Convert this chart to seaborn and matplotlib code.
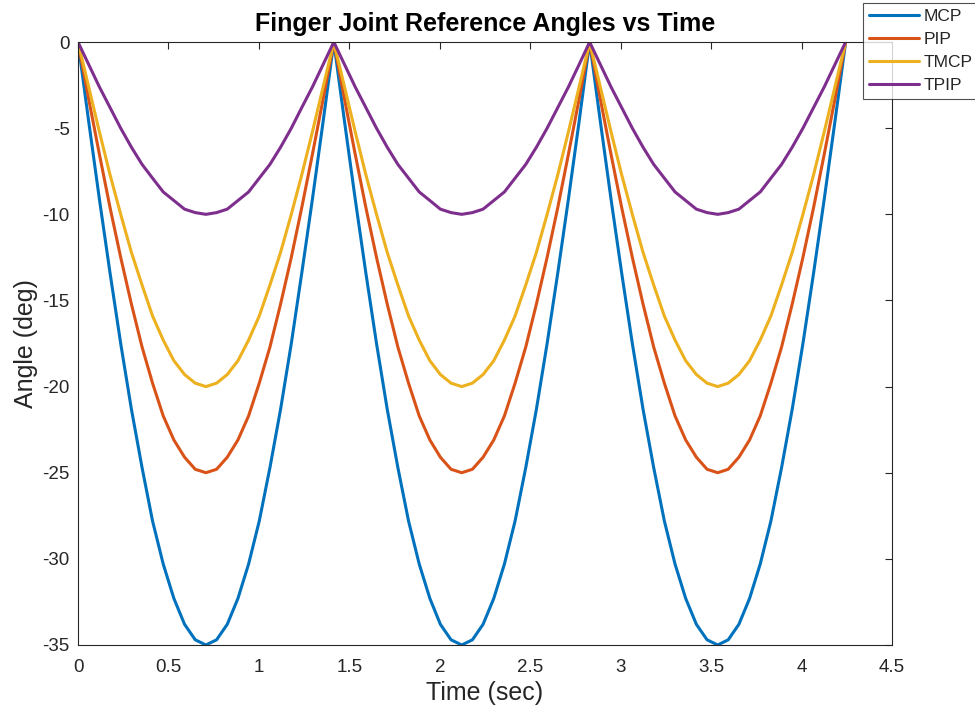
import pandas as pd
import seaborn as sns
import matplotlib.pyplot as plt

# time samples (sec) read along the x axis
time_sec = [0.000, 0.059, 0.118, 0.177, 0.236, 0.295, 0.354, 0.412, 0.471,
            0.530, 0.589, 0.648, 0.707, 0.766, 0.825, 0.884, 0.943, 1.002,
            1.061, 1.120, 1.179, 1.237, 1.296, 1.355, 1.414,
            1.473, 1.532, 1.591, 1.650, 1.709, 1.768, 1.827, 1.886, 1.945,
            2.003, 2.062, 2.121, 2.180, 2.239, 2.298, 2.357, 2.416, 2.475,
            2.534, 2.593, 2.652, 2.711, 2.770, 2.828,
            2.887, 2.946, 3.005, 3.064, 3.123, 3.182, 3.241, 3.300, 3.359,
            3.418, 3.477, 3.536, 3.594, 3.653, 3.712, 3.771, 3.830, 3.889,
            3.948, 4.007, 4.066, 4.125, 4.184, 4.243]

mcp = [0, -4.6, -9.1, -13.4, -17.5, -21.3, -24.7, -27.8, -30.3, -32.3, -33.8, -34.7, -35,
       -34.7, -33.8, -32.3, -30.3, -27.8, -24.7, -21.3, -17.5, -13.4, -9.1, -4.6, 0,
       -4.6, -9.1, -13.4, -17.5, -21.3, -24.7, -27.8, -30.3, -32.3, -33.8, -34.7, -35,
       -34.7, -33.8, -32.3, -30.3, -27.8, -24.7, -21.3, -17.5, -13.4, -9.1, -4.6, 0,
       -4.6, -9.1, -13.4, -17.5, -21.3, -24.7, -27.8, -30.3, -32.3, -33.8, -34.7, -35,
       -34.7, -33.8, -32.3, -30.3, -27.8, -24.7, -21.3, -17.5, -13.4, -9.1, -4.6, 0]

pip = [0, -3.3, -6.5, -9.6, -12.5, -15.2, -17.7, -19.8, -21.7, -23.1, -24.1, -24.8, -25,
       -24.8, -24.1, -23.1, -21.7, -19.8, -17.7, -15.2, -12.5, -9.6, -6.5, -3.3, 0,
       -3.3, -6.5, -9.6, -12.5, -15.2, -17.7, -19.8, -21.7, -23.1, -24.1, -24.8, -25,
       -24.8, -24.1, -23.1, -21.7, -19.8, -17.7, -15.2, -12.5, -9.6, -6.5, -3.3, 0,
       -3.3, -6.5, -9.6, -12.5, -15.2, -17.7, -19.8, -21.7, -23.1, -24.1, -24.8, -25,
       -24.8, -24.1, -23.1, -21.7, -19.8, -17.7, -15.2, -12.5, -9.6, -6.5, -3.3, 0]

tmcp = [0, -2.6, -5.2, -7.7, -10, -12.2, -14.1, -15.9, -17.3, -18.5, -19.3, -19.8, -20,
        -19.8, -19.3, -18.5, -17.3, -15.9, -14.1, -12.2, -10, -7.7, -5.2, -2.6, 0,
        -2.6, -5.2, -7.7, -10, -12.2, -14.1, -15.9, -17.3, -18.5, -19.3, -19.8, -20,
        -19.8, -19.3, -18.5, -17.3, -15.9, -14.1, -12.2, -10, -7.7, -5.2, -2.6, 0,
        -2.6, -5.2, -7.7, -10, -12.2, -14.1, -15.9, -17.3, -18.5, -19.3, -19.8, -20,
        -19.8, -19.3, -18.5, -17.3, -15.9, -14.1, -12.2, -10, -7.7, -5.2, -2.6, 0]

tpip = [0, -1.3, -2.6, -3.8, -5, -6.1, -7.1, -7.9, -8.7, -9.2, -9.7, -9.9, -10,
        -9.9, -9.7, -9.2, -8.7, -7.9, -7.1, -6.1, -5, -3.8, -2.6, -1.3, 0,
        -1.3, -2.6, -3.8, -5, -6.1, -7.1, -7.9, -8.7, -9.2, -9.7, -9.9, -10,
        -9.9, -9.7, -9.2, -8.7, -7.9, -7.1, -6.1, -5, -3.8, -2.6, -1.3, 0,
        -1.3, -2.6, -3.8, -5, -6.1, -7.1, -7.9, -8.7, -9.2, -9.7, -9.9, -10,
        -9.9, -9.7, -9.2, -8.7, -7.9, -7.1, -6.1, -5, -3.8, -2.6, -1.3, 0]

joints = ['MCP', 'PIP', 'TMCP', 'TPIP']
colors = ['#0072BD', '#D95319', '#EDB120', '#7E2F8E']

sns.set_style('white')
plt.rcParams['font.family'] = ['Liberation Sans', 'DejaVu Sans']
plt.rcParams['axes.unicode_minus'] = False

frames = []
for name, vals in zip(joints, [mcp, pip, tmcp, tpip]):
    frames.append(pd.DataFrame({'Time': time_sec, 'Angle': vals, 'Joint': name}))
df = pd.concat(frames, ignore_index=True)

fig = plt.figure(figsize=(9.75, 7.13), dpi=100)
ax = fig.add_axes([0.080, 0.0954, 0.835, 0.8456])

sns.lineplot(data=df, x='Time', y='Angle', hue='Joint', palette=colors,
             linewidth=2.2, ax=ax, legend=False, sort=False)

ax.set_xlim(0, 4.5)
ax.set_ylim(-35, 0)
ax.set_xticks([0, 0.5, 1, 1.5, 2, 2.5, 3, 3.5, 4, 4.5])
ax.set_xticklabels(['0', '0.5', '1', '1.5', '2', '2.5', '3', '3.5', '4', '4.5'])
ax.set_yticks([-35, -30, -25, -20, -15, -10, -5, 0])
ax.tick_params(direction='in', length=5, width=0.8, colors='#262626',
               labelsize=13.5, top=True, right=True)
ax.tick_params(axis='x', pad=10)
ax.tick_params(axis='y', pad=6)
for sp in ax.spines.values():
    sp.set_color('#262626')
    sp.set_linewidth(0.8)

ax.set_xlabel('Time (sec)', fontsize=18, color='#262626', labelpad=4)
ax.set_ylabel('Angle (deg)', fontsize=18, color='#262626', labelpad=3)
ax.set_title('Finger Joint Reference Angles vs Time', fontsize=18,
             fontweight='bold', color='black', pad=8)

handles = [plt.Line2D([], [], color=c, linewidth=2.2) for c in colors]
leg = fig.legend(handles, joints, loc='upper left',
                 bbox_to_anchor=(863 / 975, 1 - 3 / 713), fontsize=12.5,
                 frameon=True, fancybox=False, handlelength=2.9,
                 borderpad=0.35, labelspacing=0.45, handletextpad=0.25,
                 borderaxespad=0)
leg.get_frame().set_edgecolor('#262626')
leg.get_frame().set_linewidth(0.8)

fig.savefig('out.png', dpi=100)
plt.close(fig)
